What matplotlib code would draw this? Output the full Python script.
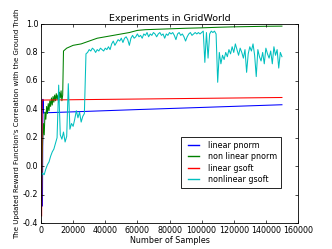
import numpy as np
import matplotlib
matplotlib.use("Agg")
import matplotlib.pyplot as plt

plt.style.use("classic")

title = "Experiments in GridWorld"
xlabel = "Number of Samples"
ylabel = "The Updated Reward Function's Correlation with the Ground Truth"
labels = ["linear pnorm", "non linear pnorm", "linear gsoft", "nonlinear gsoft"]
colors = ["b", "g", "r", "c"]

# linear pnorm
lp_x = [900, 1200, 1500, 20000, 60000, 100000, 150000]
lp_y = [-0.28, 0.47, 0.375, 0.382, 0.398, 0.413, 0.432]

# non linear pnorm
nlp_x = [300, 700, 1000, 1500, 2000, 2500, 3000, 3500, 4000, 4500, 5000, 5500,
         6000, 6500, 7000, 7500, 8000, 8500, 9000, 9500, 10000, 10500, 11000,
         11500, 12000, 12500, 13000, 13500, 14000, 16000, 20000, 25000, 30000,
         35000, 40000, 45000, 50000, 55000, 60000, 65000, 70000, 80000, 90000,
         100000, 110000, 120000, 130000, 140000, 150000]
nlp_y = [-0.24, 0.05, 0.17, 0.30, 0.22, 0.38, 0.33, 0.42, 0.37, 0.44, 0.39, 0.46,
         0.42, 0.48, 0.43, 0.49, 0.45, 0.50, 0.46, 0.51, 0.47, 0.50, 0.45,
         0.52, 0.48, 0.53, 0.46, 0.50, 0.81, 0.83, 0.85, 0.86, 0.88,
         0.90, 0.91, 0.92, 0.93, 0.94, 0.955, 0.96, 0.962, 0.966, 0.97,
         0.973, 0.977, 0.98, 0.982, 0.984, 0.985]

# linear gsoft
lg_x = [400, 700, 150000]
lg_y = [-0.35, 0.465, 0.483]

# nonlinear gsoft (sampled every 1000 samples)
nlg_step = 1000
nlg_y = [
    -0.07, -0.05, -0.06, -0.02, 0.01, 0.03, 0.07, 0.10, 0.12, 0.16,   # 0-9k
    0.20, 0.57, 0.22, 0.19, 0.24, 0.17, 0.21, 0.58, 0.26, 0.30,       # 10-19k
    0.28, 0.33, 0.39, 0.34, 0.38, 0.31, 0.35, 0.37, 0.79, 0.80,       # 20-29k
    0.82, 0.81, 0.83, 0.82, 0.80, 0.82, 0.81, 0.83, 0.82, 0.81,       # 30-39k
    0.83, 0.82, 0.84, 0.82, 0.86, 0.88, 0.85, 0.87, 0.89, 0.88,       # 40-49k
    0.90, 0.87, 0.90, 0.91, 0.89, 0.85, 0.90, 0.92, 0.90, 0.91,       # 50-59k
    0.93, 0.91, 0.92, 0.90, 0.93, 0.92, 0.94, 0.91, 0.93, 0.92,       # 60-69k
    0.94, 0.93, 0.91, 0.93, 0.94, 0.92, 0.93, 0.90, 0.93, 0.92,       # 70-79k
    0.94, 0.93, 0.94, 0.92, 0.89, 0.93, 0.94, 0.92, 0.93, 0.91,       # 80-89k
    0.88, 0.91, 0.93, 0.94, 0.92, 0.93, 0.94, 0.93, 0.94, 0.93,       # 90-99k
    0.94, 0.95, 0.73, 0.94, 0.76, 0.93, 0.95, 0.94, 0.95, 0.93,       # 100-109k
    0.59, 0.80, 0.72, 0.78, 0.75, 0.80, 0.77, 0.82, 0.79, 0.84,       # 110-119k
    0.80, 0.86, 0.82, 0.78, 0.83, 0.80, 0.76, 0.82, 0.66, 0.79,       # 120-129k
    0.84, 0.81, 0.86, 0.78, 0.63, 0.82, 0.77, 0.74, 0.80, 0.72,       # 130-139k
    0.83, 0.79, 0.76, 0.81, 0.72, 0.84, 0.78, 0.82, 0.69, 0.80,       # 140-149k
    0.77,                                                             # 150k
]
nlg_x = [i * nlg_step for i in range(len(nlg_y))]

fig = plt.figure(figsize=(3.32, 2.49), dpi=100, facecolor="white")
ax = fig.add_axes([0.1235, 0.1044, 0.7741, 0.7992])
ax.set_facecolor("white")

lw = 0.75
ax.plot(lp_x, lp_y, color=colors[0], lw=lw, label=labels[0])
ax.plot(nlp_x, nlp_y, color=colors[1], lw=lw, label=labels[1])
ax.plot(lg_x, lg_y, color=colors[2], lw=lw, label=labels[2])
ax.plot(nlg_x, nlg_y, color=colors[3], lw=lw, label=labels[3])

ax.set_xlim(0, 160000)
ax.set_ylim(-0.4, 1.0)
ax.set_xticks(np.arange(0, 160001, 20000))
ax.set_yticks(np.arange(-0.4, 1.01, 0.2))
ax.tick_params(labelsize=5.8, length=2.5, width=0.5, pad=2)
ax.yaxis.set_major_formatter(matplotlib.ticker.FormatStrFormatter("%.1f"))
for s in ax.spines.values():
    s.set_linewidth(0.6)

ax.set_title(title, fontsize=6.8, pad=2)
ax.set_xlabel(xlabel, fontsize=5.8, labelpad=1)
ax.set_ylabel(ylabel, fontsize=5, labelpad=2)

leg = ax.legend(loc="lower left", bbox_to_anchor=(0.545, 0.176), fontsize=5.8,
                handlelength=2.0, borderpad=0.5, labelspacing=0.3,
                handletextpad=0.8, borderaxespad=0, fancybox=False)
leg.get_frame().set_linewidth(0.6)
for h in leg.get_lines():
    h.set_linewidth(1.0)

fig.savefig("out.png", dpi=100, facecolor="white")
